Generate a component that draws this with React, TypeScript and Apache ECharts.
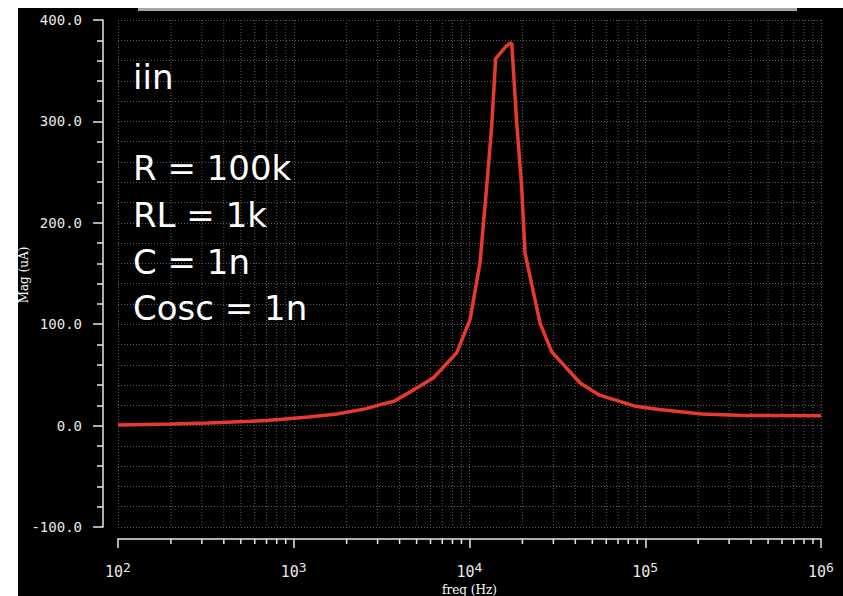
import React, { useEffect, useRef } from "react";
import * as echarts from "echarts";

// Frequency response (Hz) and magnitude (uA)
const freqs = [
  100, 200, 325, 570, 830, 1210, 1760, 2550, 3100, 3720, 4790, 6220, 8450,
  10070, 11480, 12530, 13370, 14090, 16140, 17000, 17400, 18500, 19800, 20700,
  25200, 29300, 42600, 55000, 88100, 119700, 210000, 367000, 1000000,
];
const mags = [
  0.5, 1.5, 2.6, 4.2, 5.9, 8.5, 11.5, 16.5, 20.7, 24, 35, 47, 71.7,
  104.5, 160.7, 236, 295, 362, 374, 377, 377, 302, 236, 170,
  101, 73, 42, 30, 19, 15.8, 11.5, 9.9, 9.8,
];

// Minor decade ticks (2..9 x 10^n)
const minorFreqs = [
  200, 300, 400, 500, 600, 700, 800, 900,
  2000, 3000, 4000, 5000, 6000, 7000, 8000, 9000,
  20000, 30000, 40000, 50000, 60000, 70000, 80000, 90000,
  200000, 300000, 400000, 500000, 600000, 700000, 800000, 900000,
];

const annotations = ["iin", "R = 100k", "RL = 1k", "C = 1n", "Cosc = 1n"];
const annotationBaselines = [87, 178, 225, 272, 318];

const yTitle = "Mag (uA)";
const xTitle = "freq (Hz)";

export default function App() {
  const ref = useRef<HTMLDivElement>(null);
  useEffect(() => {
    if (!ref.current) return;
    const chart = echarts.init(ref.current, null, { renderer: "svg" });
    const gridColor = "#5c5c5c";
    const option: any = {
      animation: false,
      backgroundColor: "#ffffff",
      graphic: [
        { type: "rect", shape: { x: 18, y: 8, width: 825, height: 588 }, style: { fill: "#000000" }, z: -10 },
        { type: "rect", shape: { x: 138, y: 8, width: 659, height: 3 }, style: { fill: "#a3a7ad" }, z: -9 },
        {
          type: "text",
          x: 24,
          y: 275,
          rotation: Math.PI / 2,
          z: 10,
          style: {
            text: yTitle,
            fill: "#ffffff",
            font: '12px "DejaVu Serif"',
            align: "center",
            verticalAlign: "middle",
          },
        },
        ...annotations.map((t, i) => ({
          type: "text",
          z: 10,
          style: {
            text: t,
            x: 133,
            y: annotationBaselines[i] - 10,
            fill: "#ffffff",
            font: '34px "DejaVu Sans"',
            verticalAlign: "middle",
            align: "left",
          },
        })),
      ],
      grid: { left: 118, top: 20, width: 703, height: 507, outerBoundsMode: "none", containLabel: false },
      xAxis: {
        type: "log",
        logBase: 10,
        min: 100,
        max: 1000000,
        offset: 12,
        name: xTitle,
        nameLocation: "middle",
        nameGap: 34,
        nameTextStyle: { color: "#ffffff", fontFamily: "DejaVu Serif", fontSize: 12 },
        axisLine: { show: true, onZero: false, lineStyle: { color: "#e6e6e6", width: 1.5 } },
        axisTick: { show: true, length: 9, lineStyle: { color: "#e6e6e6", width: 1.5 } },
        minorTick: { show: false },
        splitLine: { show: true, lineStyle: { color: gridColor, type: [1, 2], width: 1 } },
        axisLabel: {
          margin: 22,
          formatter: (v: number) => `{b|10}{s|${Math.round(Math.log10(v))}}`,
          rich: {
            b: { color: "#e8e8e8", fontFamily: "DejaVu Sans Mono", fontSize: 15 },
            s: { color: "#e8e8e8", fontFamily: "DejaVu Sans Mono", fontSize: 13, verticalAlign: "bottom", padding: [0, 0, 8, 0] },
          },
        },
      },
      yAxis: {
        type: "value",
        min: -100,
        max: 400,
        interval: 100,
        offset: 15,
        axisLine: { show: true, onZero: false, lineStyle: { color: "#e6e6e6", width: 1.5 } },
        axisTick: { show: true, length: 10, lineStyle: { color: "#e6e6e6", width: 1.5 } },
        minorTick: { show: true, splitNumber: 5, length: 6, lineStyle: { color: "#e6e6e6", width: 1.5 } },
        splitLine: { show: true, lineStyle: { color: gridColor, type: [1, 2], width: 1 } },
        minorSplitLine: { show: true, lineStyle: { color: gridColor, type: [1, 2], width: 1 } },
        axisLabel: {
          margin: 21,
          color: "#e8e8e8",
          fontFamily: "DejaVu Sans Mono",
          fontSize: 14,
          formatter: (v: number) => v.toFixed(1),
        },
      },
      series: [
        {
          type: "custom",
          z: 1,
          clip: false,
          silent: true,
          data: minorFreqs.map((f) => [f]),
          renderItem: (params: any, api: any) => {
            const f = api.value(0);
            const pTop = api.coord([f, 400]);
            const pBot = api.coord([f, -100]);
            const axisY = pBot[1] + 12;
            return {
              type: "group",
              children: [
                {
                  type: "line",
                  shape: { x1: pTop[0], y1: pTop[1], x2: pBot[0], y2: pBot[1] },
                  style: { stroke: gridColor, lineWidth: 1, lineDash: [1, 2] },
                },
                {
                  type: "line",
                  shape: { x1: pTop[0], y1: axisY, x2: pTop[0], y2: axisY + 5 },
                  style: { stroke: "#e6e6e6", lineWidth: 1.5 },
                },
              ],
            };
          },
        },
        {
          type: "line",
          z: 5,
          data: freqs.map((f, i) => [f, mags[i]]),
          showSymbol: false,
          symbol: "none",
          lineStyle: { color: "#e8392e", width: 3.5 },
        },
      ],
    };
    chart.setOption(option);
    return () => chart.dispose();
  }, []);
  return (
    <div
      ref={ref}
      style={{ position: "fixed", left: 0, top: 0, width: 843, height: 596 }}
    />
  );
}
